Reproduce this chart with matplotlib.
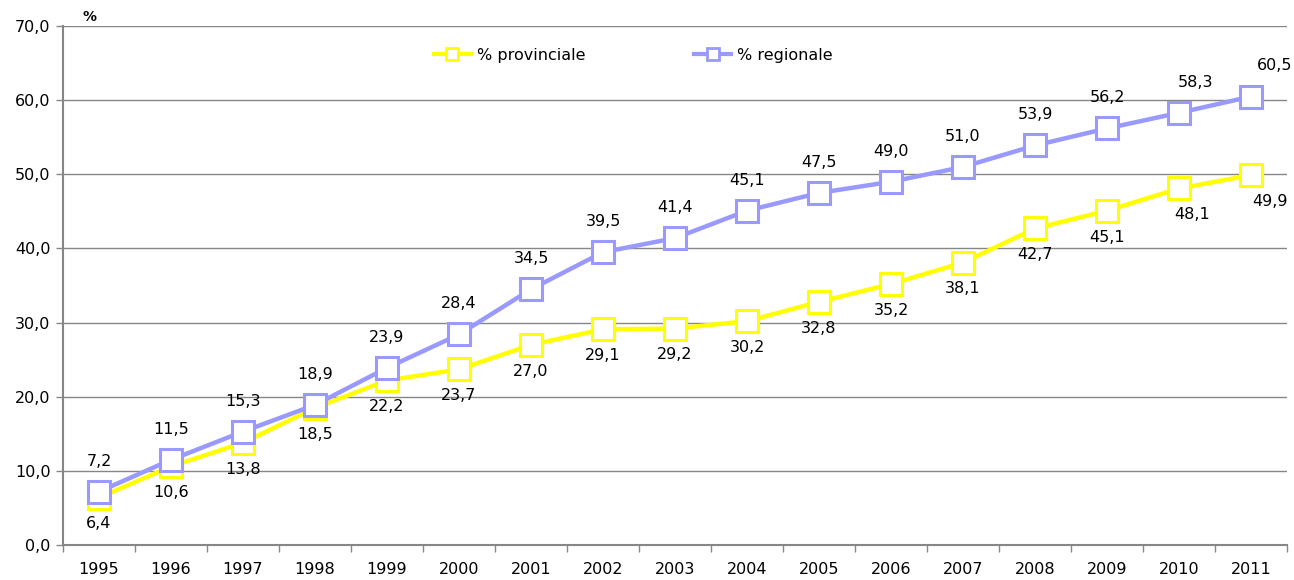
import matplotlib.pyplot as plt
from matplotlib.lines import Line2D
from matplotlib.ticker import FuncFormatter, FixedLocator

# --- dati ---
anni = ["1995", "1996", "1997", "1998", "1999", "2000", "2001", "2002", "2003",
        "2004", "2005", "2006", "2007", "2008", "2009", "2010", "2011"]
provinciale = [6.4, 10.6, 13.8, 18.5, 22.2, 23.7, 27.0, 29.1, 29.2,
               30.2, 32.8, 35.2, 38.1, 42.7, 45.1, 48.1, 49.9]
regionale = [7.2, 11.5, 15.3, 18.9, 23.9, 28.4, 34.5, 39.5, 41.4,
             45.1, 47.5, 49.0, 51.0, 53.9, 56.2, 58.3, 60.5]

GIALLO = "#FFFF00"
LILLA = "#9999FF"
GRIGIO = "#868686"
FS = 11.5

plt.rcParams['font.family'] = ['DejaVu Sans']

fig = plt.figure(figsize=(12.94, 5.8), dpi=100)
ax = fig.add_axes([0.0487, 0.0603, 0.9459, 0.8947])

x = list(range(len(anni)))

ax.plot(x, provinciale, color=GIALLO, lw=3.2, marker='s', ms=16.5,
        mfc='white', mec=GIALLO, mew=2.2, zorder=3)
ax.plot(x, regionale, color=LILLA, lw=3.2, marker='s', ms=16.5,
        mfc='white', mec=LILLA, mew=2.2, zorder=4)

def fmt(v):
    return f"{v:.1f}".replace(".", ",")

# etichette dati
for i, (p, r) in enumerate(zip(provinciale, regionale)):
    dx = 0
    if i == len(anni) - 1:
        dx = 17
    elif i == len(anni) - 2:
        dx = 12
    ax.annotate(fmt(r), (i, r), xytext=(dx, 22), textcoords='offset points',
                ha='center', va='center', fontsize=FS, zorder=5)
    ax.annotate(fmt(p), (i, p), xytext=(dx * 0.8, -19), textcoords='offset points',
                ha='center', va='center', fontsize=FS, zorder=5)

ax.set_xlim(-0.5, len(anni) - 0.5)
ax.set_ylim(0, 70)
ax.set_yticks(range(0, 71, 10))
ax.yaxis.set_major_formatter(FuncFormatter(lambda v, pos: fmt(v)))
ax.grid(axis='y', color=GRIGIO, lw=1)
ax.set_axisbelow(True)

ax.set_xticks(x)
ax.set_xticklabels(anni)
ax.xaxis.set_minor_locator(FixedLocator([i - 0.5 for i in range(len(anni) + 1)]))
ax.tick_params(axis='x', which='major', length=0, pad=12, labelsize=FS)
ax.tick_params(axis='x', which='minor', length=5, color=GRIGIO, width=1)
ax.tick_params(axis='y', length=5, color=GRIGIO, width=1, pad=4, labelsize=FS)

for s in ['top', 'right']:
    ax.spines[s].set_visible(False)
for s in ['left', 'bottom']:
    ax.spines[s].set_color(GRIGIO)
    ax.spines[s].set_linewidth(1.5)

ax.text(0.016, 1.004, "%", transform=ax.transAxes, fontsize=10,
        fontweight='bold', ha='left', va='bottom')

# legenda
handles = [
    Line2D([], [], color=GIALLO, lw=3, marker='s', ms=8, mfc='white', mec=GIALLO, mew=2),
    Line2D([], [], color=LILLA, lw=3, marker='s', ms=8, mfc='white', mec=LILLA, mew=2),
]
ax.legend(handles, ["% provinciale", "% regionale"], ncol=2, frameon=False,
          loc='center', bbox_to_anchor=(0.466, 0.944), fontsize=FS,
          handlelength=2.3, handletextpad=0.4, columnspacing=6.8)

fig.savefig("out.png", dpi=100)
